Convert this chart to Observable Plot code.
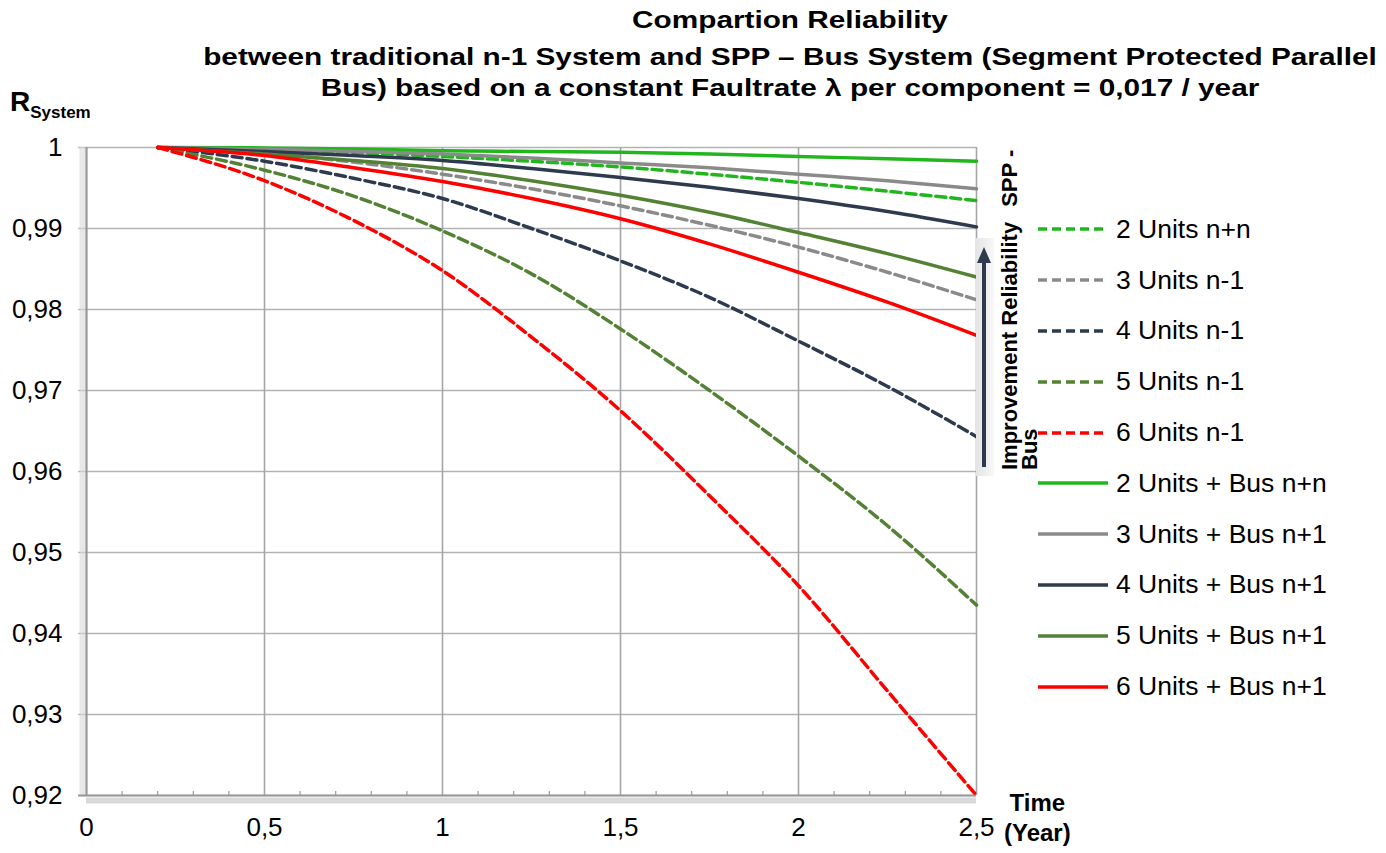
<!DOCTYPE html>
<html>
<head>
<meta charset="utf-8">
<script src="https://cdn.jsdelivr.net/npm/d3@7"></script>
<script src="https://cdn.jsdelivr.net/npm/@observablehq/plot@0.6"></script>
<style>
  html, body { margin: 0; padding: 0; background: #fff; }
  body { width: 1386px; height: 853px; position: relative; overflow: hidden; font-family: "Liberation Sans", Arial, sans-serif; }
  #chart { position: absolute; left: 0; top: 0; }
  .tline { position: absolute; left: 290px; width: 1000px; text-align: center; font-weight: bold; font-size: 24px; line-height: 30px; color: #000; transform: scaleX(1.24); transform-origin: 500px 0; white-space: nowrap; }
  .rsys { position: absolute; left: 10px; top: 86px; font-weight: bold; font-size: 28px; }
  .rsys sub { font-size: 17px; vertical-align: -7px; }
  .time { position: absolute; left: 1004px; top: 788px; font-weight: bold; font-size: 24px; line-height: 30px; text-align: center; }
  .legend { position: absolute; left: 1038px; top: 204px; }
  .legend .row { height: 50.8px; display: flex; align-items: center; font-size: 26.5px; white-space: nowrap; }
  .legend svg { margin-right: 6px; }
  .annot { position: absolute; }
</style>
</head>
<body>
<div id="chart"></div>
<div class="tline" style="top:5px">Compartion Reliability</div>
<div class="tline" style="top:42px">between traditional n-1 System and SPP – Bus System (Segment Protected Parallel</div>
<div class="tline" style="top:73px">Bus) based on a constant Faultrate λ per component = 0,017 / year</div>
<div class="rsys">R<sub>System</sub></div>
<div class="time">Time<br>(Year)</div>
<svg class="annot" style="left:970px;top:120px" width="80" height="360">
  <defs>
    <linearGradient id="sh" x1="0" x2="1">
      <stop offset="0" stop-color="#e4e4e4"/><stop offset="1" stop-color="#f8f8f8"/>
    </linearGradient>
  </defs>
  <rect x="6" y="118" width="18" height="238" fill="url(#sh)"/>
  <line x1="14" y1="347" x2="14" y2="140" stroke="#2e3a4e" stroke-width="4"/>
  <path d="M14,127 L7,143 L21,143 Z" fill="#2e3a4e"/>
  <text transform="translate(47,350) rotate(-90)" font-weight="bold" font-size="22" fill="#000">Improvement Reliability<tspan dx="15">SPP -</tspan></text>
  <text transform="translate(67,350) rotate(-90)" font-weight="bold" font-size="22" fill="#000">Bus</text>
</svg>
<div class="legend" id="legend"></div>
<script>
// Time (years) sample points
const years = [0.2, 0.5, 0.75, 1, 1.25, 1.5, 1.75, 2, 2.25, 2.5];

// Traditional n-1 systems (dashed)
const units2_nn   = [1, 0.9998, 0.9994, 0.9989, 0.9983, 0.9976, 0.9967, 0.9957, 0.9946, 0.99345];
const units3_n1   = [1, 0.9993, 0.9982, 0.9967, 0.9949, 0.9928, 0.9904, 0.9877, 0.9846, 0.9812];
const units4_n1   = [1, 0.9983, 0.9962, 0.9937, 0.9900, 0.9860, 0.9815, 0.9761, 0.9705, 0.9643];
const units5_n1   = [1, 0.9972, 0.9940, 0.9897, 0.9844, 0.9776, 0.9700, 0.9619, 0.9533, 0.9435];
const units6_n1   = [1, 0.9959, 0.9910, 0.9848, 0.9766, 0.9675, 0.9570, 0.9459, 0.9329, 0.9200];

// SPP bus systems (solid)
const units2_bus  = [1, 0.99995, 0.9998, 0.9996, 0.9995, 0.99942, 0.9992, 0.9989, 0.9986, 0.9983];
const units3_bus  = [1, 0.9998, 0.9995, 0.9992, 0.9987, 0.9981, 0.9975, 0.9967, 0.9959, 0.9949];
const units4_bus  = [1, 0.9995, 0.9990, 0.9984, 0.9974, 0.9963, 0.9951, 0.9937, 0.9921, 0.9902];
const units5_bus  = [1, 0.9992, 0.9984, 0.9974, 0.9959, 0.9941, 0.9920, 0.9895, 0.9869, 0.9840];
const units6_bus  = [1, 0.9990, 0.9975, 0.9958, 0.9937, 0.9912, 0.9881, 0.9846, 0.9809, 0.9768];

const seriesNames = ["2 Units n+n", "3 Units n-1", "4 Units n-1", "5 Units n-1", "6 Units n-1",
  "2 Units + Bus n+n", "3 Units + Bus n+1", "4 Units + Bus n+1", "5 Units + Bus n+1", "6 Units + Bus n+1"];
const seriesValues = [units2_nn, units3_n1, units4_n1, units5_n1, units6_n1,
  units2_bus, units3_bus, units4_bus, units5_bus, units6_bus];
const seriesColors = ["#22b61e", "#8a8a8a", "#2e3a4e", "#548235", "#ff0000",
  "#22b61e", "#8a8a8a", "#2e3a4e", "#548235", "#ff0000"];
const seriesDashed = [true, true, true, true, true, false, false, false, false, false];

const xTicks = [0, 0.5, 1, 1.5, 2, 2.5];
const yTicks = [0.92, 0.93, 0.94, 0.95, 0.96, 0.97, 0.98, 0.99, 1];
const xMinor = [0.1, 0.2, 0.3, 0.4, 0.6, 0.7, 0.8, 0.9, 1.1, 1.2, 1.3, 1.4, 1.6, 1.7, 1.8, 1.9, 2.1, 2.2, 2.3, 2.4];

const fmt = d => String(+d.toFixed(2)).replace(".", ",");

const lineMarks = [];
seriesNames.forEach((name, i) => {
  const data = years.map((t, j) => ({t, r: seriesValues[i][j]}));
  lineMarks.push(Plot.line(data, {
    x: "t", y: "r", stroke: seriesColors[i], strokeWidth: 3.5,
    strokeDasharray: seriesDashed[i] ? "10,5" : null,
    curve: "monotone-x"
  }));
});

const chart = Plot.plot({
  width: 1386,
  height: 853,
  marginLeft: 86,
  marginRight: 410,
  marginTop: 147,
  marginBottom: 58,
  style: {fontFamily: "'Liberation Sans', Arial, sans-serif", fontSize: "26px", color: "#000", background: "transparent"},
  x: {domain: [0, 2.5], label: null},
  y: {domain: [0.92, 1], label: null},
  marks: [
    Plot.ruleY(yTicks, {x1: -0.022, x2: 2.5, stroke: "#b3b3b3", strokeWidth: 1.6}),
    Plot.ruleX(xTicks, {stroke: "#a6a6a6", strokeWidth: 1.6}),
    // shadow of axes
    Plot.ruleY([0.92], {stroke: "#c8c8c8", strokeWidth: 6, dy: 5, strokeOpacity: 0.7}),
    Plot.ruleX([0], {stroke: "#d8d8d8", strokeWidth: 6, dx: -4, strokeOpacity: 0.6}),
    Plot.ruleY([0.92], {x1: -0.022, x2: 2.5, stroke: "#999", strokeWidth: 2}),
    Plot.ruleX([0], {stroke: "#999", strokeWidth: 2}),
    Plot.ruleX(xMinor, {y1: 0.92, y2: 0.9205, stroke: "#999", strokeWidth: 1.2}),
    Plot.axisX(xTicks, {tickSize: 0, tickPadding: 22, tickFormat: fmt, fontSize: 26, label: null}),
    Plot.axisY(yTicks, {tickSize: 0, tickPadding: 24, tickFormat: fmt, fontSize: 26, label: null}),
    ...lineMarks
  ]
});
document.getElementById("chart").appendChild(chart);

// Legend
const legend = document.getElementById("legend");
seriesNames.forEach((name, i) => {
  const row = document.createElement("div");
  row.className = "row";
  row.innerHTML = `<svg width="72" height="10"><line x1="0" y1="5" x2="70" y2="5" stroke="${seriesColors[i]}" stroke-width="3.5" ${seriesDashed[i] ? 'stroke-dasharray="9,5"' : ''}/></svg><span>${name}</span>`;
  legend.appendChild(row);
});
</script>
</body>
</html>
